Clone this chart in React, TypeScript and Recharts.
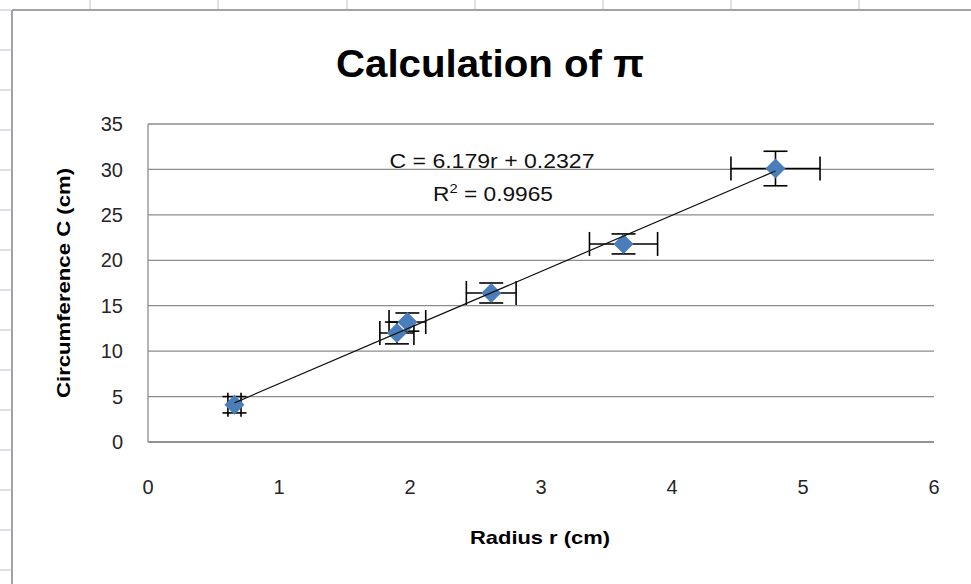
import React from 'react';
import { ScatterChart, Scatter, XAxis, YAxis, CartesianGrid, ErrorBar } from 'recharts';

// ---- data ----
const radius = [0.66, 1.9, 1.98, 2.62, 3.63, 4.79];
const circumference = [4.1, 12.0, 13.2, 16.4, 21.8, 30.1];
const radiusError = [0.05, 0.13, 0.14, 0.19, 0.26, 0.34];
const circumferenceError = [0.9, 1.2, 1.0, 1.1, 1.1, 1.9];

const trendRadius = [0.66, 4.79];
const trendCircumference = [4.31, 29.83];

const xTicks = [0, 1, 2, 3, 4, 5, 6];
const yTicks = [0, 5, 10, 15, 20, 25, 30, 35];

const titleText = 'Calculation of π';
const xTitle = 'Radius r (cm)';
const yTitle = 'Circumference C (cm)';
const equationText = 'C = 6.179r + 0.2327';
const rSquaredText = '0.9965';

// spreadsheet background lines
const sheetColumns = [90, 218, 347, 475, 603, 731, 859];
const sheetRows = [10, 50, 90, 130, 170, 210, 250, 290, 330, 370, 410, 450, 490, 530, 570];

const points = radius.map((r, i) => ({
  r,
  c: circumference[i],
  rErr: radiusError[i],
  cErr: circumferenceError[i],
}));
const trend = trendRadius.map((r, i) => ({ r, c: trendCircumference[i] }));

const FONT = "'Liberation Sans', Arial, sans-serif";
const GRID = '#8c8c8c';
const BLUE = '#4a7ebb';

const Diamond = (props: any) => {
  const { cx, cy } = props;
  if (cx == null || cy == null) return <g />;
  const s = 10;
  return (
    <polygon
      points={`${cx},${cy - s} ${cx + s},${cy} ${cx},${cy + s} ${cx - s},${cy}`}
      fill={BLUE}
    />
  );
};

const Nothing = () => <g />;

export default function App() {
  return (
    <div style={{ position: 'absolute', left: 0, top: 0, width: 971, height: 584, background: '#fff', overflow: 'hidden' }}>
      <svg width={971} height={584} style={{ position: 'absolute', left: 0, top: 0 }}>
        {sheetColumns.map((x) => (
          <line key={'c' + x} x1={x} x2={x} y1={0} y2={10} stroke="#d0d7e5" strokeWidth={1.5} />
        ))}
        {sheetRows.map((y) => (
          <line key={'r' + y} x1={0} x2={11} y1={y} y2={y} stroke="#d0d7e5" strokeWidth={1.5} />
        ))}
        <line x1={12} x2={971} y1={10} y2={10} stroke="#a3a3a3" strokeWidth={2} />
        <line x1={12} x2={12} y1={10} y2={584} stroke="#a3a3a3" strokeWidth={2} />
      </svg>
      <div style={{ position: 'absolute', left: 0, top: 0 }}>
        <ScatterChart
          width={971}
          height={584}
          margin={{ top: 124, right: 37, bottom: 82, left: 88 }}
        >
          <CartesianGrid horizontal vertical={false} stroke={GRID} strokeWidth={1.3} />
          <XAxis
            type="number"
            dataKey="r"
            domain={[0, 6]}
            ticks={xTicks}
            height={60}
            axisLine={{ stroke: GRID, strokeWidth: 1.3 }}
            tickLine={false}
            tickSize={0}
            tickMargin={38}
            tick={{ fill: '#262626', fontSize: 20, fontFamily: FONT }}
            allowDataOverflow
          />
          <YAxis
            type="number"
            dataKey="c"
            domain={[0, 35]}
            ticks={yTicks}
            width={60}
            axisLine={{ stroke: GRID, strokeWidth: 1.3 }}
            tickLine={false}
            tickSize={0}
            tickMargin={25}
            tick={{ fill: '#262626', fontSize: 20, fontFamily: FONT }}
            allowDataOverflow
          />
          <Scatter data={points} shape={Diamond} isAnimationActive={false}>
            <ErrorBar dataKey="rErr" direction="x" width={12} stroke="#000" strokeWidth={1.6} />
            <ErrorBar dataKey="cErr" direction="y" width={12} stroke="#000" strokeWidth={1.6} />
          </Scatter>
          <Scatter
            data={trend}
            shape={Nothing}
            line={{ stroke: '#111', strokeWidth: 1.2 }}
            isAnimationActive={false}
          />
        </ScatterChart>
      </div>
      <svg width={971} height={584} style={{ position: 'absolute', left: 0, top: 0, pointerEvents: 'none' }}>
        <text x={490} y={77} textAnchor="middle" fontFamily={FONT} fontWeight="bold" fontSize={38} fill="#000"
          textLength={308} lengthAdjust="spacingAndGlyphs">
          {titleText}
        </text>
        <text x={492} y={168} textAnchor="middle" fontFamily={FONT} fontSize={20} fill="#111"
          textLength={205} lengthAdjust="spacingAndGlyphs">
          {equationText}
        </text>
        <text x={493} y={201} textAnchor="middle" fontFamily={FONT} fontSize={20} fill="#111"
          textLength={120} lengthAdjust="spacingAndGlyphs">
          R<tspan fontSize={13} dy={-8}>2</tspan><tspan dy={8}>{' = ' + rSquaredText}</tspan>
        </text>
        <text x={540} y={544} textAnchor="middle" fontFamily={FONT} fontWeight="bold" fontSize={19} fill="#000"
          textLength={140} lengthAdjust="spacingAndGlyphs">
          {xTitle}
        </text>
        <text x={70} y={283} textAnchor="middle" fontFamily={FONT} fontWeight="bold" fontSize={19} fill="#000"
          textLength={230} lengthAdjust="spacingAndGlyphs" transform="rotate(-90 70 283)">
          {yTitle}
        </text>
      </svg>
    </div>
  );
}
